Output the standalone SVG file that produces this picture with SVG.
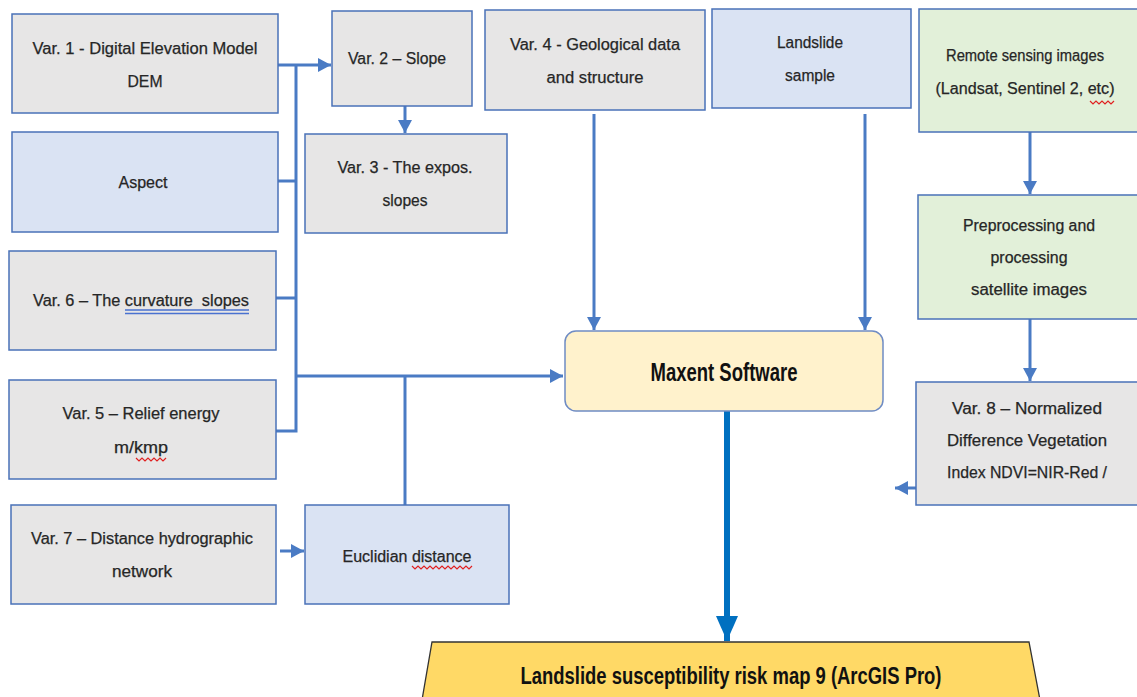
<svg xmlns="http://www.w3.org/2000/svg" width="1137" height="697" viewBox="0 0 1137 697">
<style>
.box{stroke:#4a72b8;stroke-width:1.5}
.gray{fill:#e7e6e6}
.blue{fill:#dae3f3}
.green{fill:#e2f0d9}
.t{font-family:"Liberation Sans",Arial,sans-serif;font-size:16px;fill:#262626;stroke:#262626;stroke-width:0.25;text-anchor:middle}
.b{font-family:"Liberation Sans",Arial,sans-serif;font-weight:bold;fill:#111;text-anchor:middle}
.c{fill:none;stroke:#4a7bc4;stroke-width:3}
.sq{fill:none;stroke:#e02020;stroke-width:1.2}
</style>
<defs>
<marker id="ah" markerUnits="userSpaceOnUse" markerWidth="14" markerHeight="14" refX="13" refY="7" orient="auto">
<path d="M0,0 L13,7 L0,14 Z" fill="#4a7bc4"/>
</marker>
<marker id="ahBig" markerUnits="userSpaceOnUse" markerWidth="26" markerHeight="24" refX="25" refY="11" orient="auto">
<path d="M0,0 L25,11 L0,22 Z" fill="#0070c0"/>
</marker>
</defs>
<rect width="1137" height="697" fill="#ffffff"/>

<g id="connectors">
<path class="c" d="M278,65 H331" marker-end="url(#ah)"/>
<path class="c" d="M296,65 V431 H276"/>
<path class="c" d="M278,181 H296"/>
<path class="c" d="M276,298 H296"/>
<path class="c" d="M296,376 H563" marker-end="url(#ah)"/>
<path class="c" d="M405,376 V505"/>
<path class="c" d="M405,106 V133" marker-end="url(#ah)"/>
<path class="c" d="M594,114 V330" marker-end="url(#ah)"/>
<path class="c" d="M865,114 V330" marker-end="url(#ah)"/>
<path class="c" d="M1030,132 V194" marker-end="url(#ah)"/>
<path class="c" d="M1030,319 V381" marker-end="url(#ah)"/>
<path class="c" d="M916,488 H895" marker-end="url(#ah)"/>
<path class="c" d="M280,551 H304" marker-end="url(#ah)"/>
<path d="M727,411 V641" fill="none" stroke="#0070c0" stroke-width="6" marker-end="url(#ahBig)"/>
</g>

<g id="var1">
<rect class="box gray" x="12" y="14" width="266" height="99"/>
<text class="t" x="145" y="54" textLength="225" lengthAdjust="spacingAndGlyphs">Var. 1 - Digital Elevation Model</text>
<text class="t" x="145" y="87" textLength="35" lengthAdjust="spacingAndGlyphs">DEM</text>
</g>
<g id="var2">
<rect class="box gray" x="332" y="11" width="140" height="95"/>
<text class="t" x="397" y="64" textLength="98" lengthAdjust="spacingAndGlyphs">Var. 2 – Slope</text>
</g>
<g id="var4">
<rect class="box gray" x="485" y="10" width="220" height="100"/>
<text class="t" x="595" y="50" textLength="170" lengthAdjust="spacingAndGlyphs">Var. 4 - Geological data</text>
<text class="t" x="595" y="83" textLength="97" lengthAdjust="spacingAndGlyphs">and structure</text>
</g>
<g id="landslide-sample">
<rect class="box blue" x="712" y="9" width="199" height="99"/>
<text class="t" x="810" y="48" textLength="66" lengthAdjust="spacingAndGlyphs">Landslide</text>
<text class="t" x="810" y="81" textLength="50" lengthAdjust="spacingAndGlyphs">sample</text>
</g>
<g id="remote-sensing">
<rect class="box green" x="919" y="9" width="222" height="123"/>
<text class="t" x="1025" y="61" textLength="158" lengthAdjust="spacingAndGlyphs">Remote sensing images</text>
<text class="t" x="1025" y="94" textLength="179" lengthAdjust="spacingAndGlyphs">(Landsat, Sentinel 2, etc)</text>
<path class="sq" d="M1090,101 l3,3 l3,-3 l3,3 l3,-3 l3,3 l3,-3 l3,3 l3,-3"/>
</g>
<g id="aspect">
<rect class="box blue" x="12" y="132" width="266" height="100"/>
<text class="t" x="143" y="188" textLength="49" lengthAdjust="spacingAndGlyphs">Aspect</text>
</g>
<g id="var3">
<rect class="box gray" x="305" y="134" width="202" height="99"/>
<text class="t" x="405" y="173" textLength="135" lengthAdjust="spacingAndGlyphs">Var. 3 - The expos.</text>
<text class="t" x="405" y="206" textLength="45" lengthAdjust="spacingAndGlyphs">slopes</text>
</g>
<g id="preprocessing">
<rect class="box green" x="918" y="195" width="223" height="124"/>
<text class="t" x="1029" y="231" textLength="132" lengthAdjust="spacingAndGlyphs">Preprocessing and</text>
<text class="t" x="1029" y="263" textLength="77" lengthAdjust="spacingAndGlyphs">processing</text>
<text class="t" x="1029" y="295" textLength="116" lengthAdjust="spacingAndGlyphs">satellite images</text>
</g>
<g id="var6">
<rect class="box gray" x="9" y="251" width="267" height="99"/>
<text class="t" x="141" y="306" textLength="216" lengthAdjust="spacingAndGlyphs">Var. 6 – The curvature&#160; slopes</text>
<path d="M125,310 H249 M125,313.5 H249" fill="none" stroke="#4a72d0" stroke-width="1.3"/>
</g>
<g id="maxent">
<rect x="565" y="331" width="318" height="80" rx="11" fill="#fff2cc" stroke="#6f8cc4" stroke-width="1.5"/>
<text class="b" x="724" y="381" font-size="25" textLength="147" lengthAdjust="spacingAndGlyphs">Maxent Software</text>
</g>
<g id="var5">
<rect class="box gray" x="9" y="380" width="267" height="99"/>
<text class="t" x="141" y="419" textLength="157" lengthAdjust="spacingAndGlyphs">Var. 5 – Relief energy</text>
<text class="t" x="141" y="453" textLength="54" lengthAdjust="spacingAndGlyphs">m/kmp</text>
<path class="sq" d="M136,458 l3,3 l3,-3 l3,3 l3,-3 l3,3 l3,-3 l3,3 l3,-3 l3,3 l3,-3"/>
</g>
<g id="var8">
<rect class="box gray" x="916" y="382" width="225" height="123"/>
<text class="t" x="1027" y="414" textLength="150" lengthAdjust="spacingAndGlyphs">Var. 8 – Normalized</text>
<text class="t" x="1027" y="446" textLength="160" lengthAdjust="spacingAndGlyphs">Difference Vegetation</text>
<text class="t" x="1027" y="478" textLength="160" lengthAdjust="spacingAndGlyphs">Index NDVI=NIR-Red /</text>
</g>
<g id="var7">
<rect class="box gray" x="11" y="505" width="265" height="99"/>
<text class="t" x="142" y="544" textLength="222" lengthAdjust="spacingAndGlyphs">Var. 7 – Distance hydrographic</text>
<text class="t" x="142" y="577" textLength="60" lengthAdjust="spacingAndGlyphs">network</text>
</g>
<g id="euclidian">
<rect class="box blue" x="305" y="505" width="204" height="99"/>
<text class="t" x="407" y="562" textLength="129" lengthAdjust="spacingAndGlyphs">Euclidian distance</text>
<path class="sq" d="M412,566 l3,3 l3,-3 l3,3 l3,-3 l3,3 l3,-3 l3,3 l3,-3 l3,3 l3,-3 l3,3 l3,-3 l3,3 l3,-3 l3,3 l3,-3 l3,3 l3,-3 l3,3 l3,-3"/>
</g>
<g id="risk-map">
<path d="M432,642 H1029 L1040,700 H422 Z" fill="#ffd966" stroke="#333" stroke-width="1.3"/>
<text class="b" x="731" y="684" font-size="23" textLength="421" lengthAdjust="spacingAndGlyphs">Landslide susceptibility risk map 9 (ArcGIS Pro)</text>
</g>
</svg>
